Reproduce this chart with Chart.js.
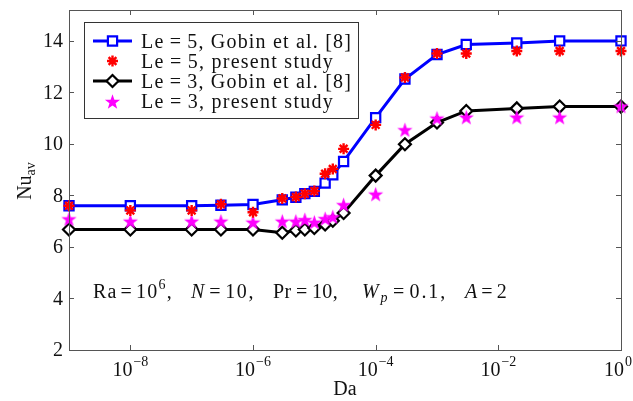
<!DOCTYPE html>
<html><head><meta charset="utf-8">
<script src="https://cdn.jsdelivr.net/npm/chart.js@4/dist/chart.umd.min.js"></script>
<style>html,body{margin:0;padding:0;background:#fff}#wrap{width:633px;height:401px;position:relative}</style>
</head><body><div id="wrap"><canvas id="c"></canvas></div>
<script>
// ---- data ----
const da = [1e-9,1e-8,1e-7,3e-7,1e-6,3e-6,5e-6,7e-6,1e-5,1.5e-5,2e-5,3e-5,1e-4,3e-4,1e-3,3e-3,2e-2,1e-1,1];
const le5Gobin   = [7.6,7.6,7.6,7.62,7.65,7.83,7.93,8.07,8.16,8.48,8.8,9.32,11.02,12.52,13.47,13.86,13.92,14.0,14.0];
const le5Present = [7.6,7.42,7.42,7.66,7.35,7.88,7.94,8.07,8.17,8.84,9.03,9.81,10.74,12.58,13.51,13.51,13.61,13.61,13.61];
const le3Gobin   = [6.68,6.68,6.68,6.68,6.68,6.55,6.64,6.68,6.74,6.87,7.02,7.32,8.77,9.99,10.83,11.28,11.38,11.45,11.45];
const le3Present = [7.09,7.0,7.0,7.0,6.96,7.0,7.0,7.06,6.96,7.1,7.17,7.64,8.05,10.55,11.0,11.04,11.04,11.04,11.47];
const xTickVals = [1e-8,1e-6,1e-4,1e-2,1];
const xTickExp  = ['\u22128','\u22126','\u22124','\u22122','0'];
const yTickVals = [2,4,6,8,10,12,14];
const legendLabels = ['Le\u2009=\u20095, Gobin et al. [8]','Le\u2009=\u20095, present study','Le\u2009=\u20093, Gobin et al. [8]','Le\u2009=\u20093, present study'];

const FONT = '"Liberation Serif", "DejaVu Serif", serif';
const F  = '20px '+FONT, FI = 'italic 20px '+FONT, FS = '14px '+FONT, FSI = 'italic 14px '+FONT;

function starCanvas(){
  const s=17, c=document.createElement('canvas'); c.width=s; c.height=s;
  const g=c.getContext('2d'); g.fillStyle='#ff00ff'; g.beginPath();
  const R=8, r=3.2;
  for(let i=0;i<10;i++){
    const a=-Math.PI/2+i*Math.PI/5, rr=i%2?r:R;
    const x=s/2+rr*Math.cos(a), y=s/2+0.8+rr*Math.sin(a);
    i?g.lineTo(x,y):g.moveTo(x,y);
  }
  g.closePath(); g.fill(); return c;
}
const magStar = starCanvas();

const pts = arr => arr.map((v,i)=>({x:da[i],y:v}));

const datasets = [
  {label:legendLabels[0], data:pts(le5Gobin), borderColor:'#0000ff', backgroundColor:'#ffffff', borderWidth:3,
   pointStyle:'rect', pointRadius:6.5, pointBorderWidth:2.2, pointBorderColor:'#0000ff', pointBackgroundColor:'#ffffff', showLine:true, order:3, clip:false},
  {label:legendLabels[1], data:pts(le5Present), borderColor:'#ff0000', backgroundColor:'#ff0000', pointBorderColor:'#ff0000', showLine:false,
   pointStyle:'star', pointRadius:5.5, pointBorderWidth:2.4, order:1, clip:false},
  {label:legendLabels[2], data:pts(le3Gobin), borderColor:'#000000', backgroundColor:'#ffffff', borderWidth:3,
   pointStyle:'rectRot', pointRadius:6, pointBorderWidth:2.2, pointBorderColor:'#000000', pointBackgroundColor:'#ffffff', showLine:true, order:4, clip:false},
  {label:legendLabels[3], data:pts(le3Present), showLine:false, pointStyle:magStar, order:2, clip:false}
];

// draw a group of text runs starting at x, stretched to a target width via letter spacing
function drawRuns(ctx, runs, x, y, target){
  const hasLS = ('letterSpacing' in ctx);
  if(hasLS) ctx.letterSpacing='0px';
  let nat=0, n=0;
  runs.forEach(r=>{ctx.font=r.f; nat+=ctx.measureText(r.t).width; n+=[...r.t].length;});
  let ls = target ? (target-nat)/n : 0;
  let sx = 1;
  if(!hasLS && target){ sx = target/nat; ls=0; }
  ctx.save(); ctx.translate(x,y); ctx.scale(sx,1);
  ctx.textAlign='left'; ctx.textBaseline='alphabetic';
  let cx=0;
  runs.forEach(r=>{
    ctx.font=r.f; if(hasLS) ctx.letterSpacing=ls+'px';
    ctx.fillText(r.t, cx, r.dy||0);
    cx += ctx.measureText(r.t).width;
  });
  if(hasLS) ctx.letterSpacing='0px';
  ctx.restore();
}

const deco = {
  id:'deco',
  afterDraw(chart){
    const ctx=chart.ctx, a=chart.chartArea, xs=chart.scales.x, ys=chart.scales.y;
    ctx.save();
    // box
    ctx.strokeStyle='#555555'; ctx.lineWidth=1;
    ctx.strokeRect(Math.round(a.left)+0.5, Math.round(a.top)+0.5, Math.round(a.right-a.left), Math.round(a.bottom-a.top));
    // ticks (inward, all sides)
    ctx.beginPath();
    xTickVals.forEach(v=>{const x=Math.round(xs.getPixelForValue(v))+0.5;
      ctx.moveTo(x,a.bottom); ctx.lineTo(x,a.bottom-5); ctx.moveTo(x,a.top); ctx.lineTo(x,a.top+5);});
    yTickVals.forEach(v=>{const y=Math.round(ys.getPixelForValue(v))+0.5;
      ctx.moveTo(a.left,y); ctx.lineTo(a.left+5,y); ctx.moveTo(a.right,y); ctx.lineTo(a.right-5,y);});
    ctx.stroke();
    ctx.fillStyle='#111';
    // y tick labels
    ctx.font=F; ctx.textAlign='right'; ctx.textBaseline='middle';
    yTickVals.forEach(v=>ctx.fillText(String(v), a.left-6, ys.getPixelForValue(v)+1));
    // x tick labels with superscripts
    xTickVals.forEach((v,i)=>{
      const x=xs.getPixelForValue(v);
      ctx.font=F; const w1=ctx.measureText('10').width;
      ctx.font=FS; const w2=ctx.measureText(xTickExp[i]).width;
      let x0=x-(w1+w2+1)/2;
      if(x0+w1+w2+1>632) x0=632-(w1+w2+1);
      ctx.textAlign='left'; ctx.textBaseline='alphabetic';
      ctx.font=F; ctx.fillText('10', x0, 376);
      ctx.font=FS; ctx.fillText(xTickExp[i], x0+w1+1, 366);
    });
    // axis titles
    ctx.font=F; ctx.textAlign='center'; ctx.textBaseline='alphabetic';
    ctx.fillText('Da', (a.left+a.right)/2, 395);
    ctx.save(); ctx.translate(31, 181); ctx.rotate(-Math.PI/2);
    ctx.textAlign='left'; ctx.font=F; const wN=ctx.measureText('Nu').width;
    ctx.font=FS; const wA=ctx.measureText('av').width;
    ctx.font=F; ctx.fillText('Nu', -(wN+wA)/2, 0);
    ctx.font=FS; ctx.fillText('av', -(wN+wA)/2+wN, 4);
    ctx.restore();
    // annotation
    const yb=298, eq='\u2009=\u2009', eqs='\u200a=\u200a';
    drawRuns(ctx,[{t:'Ra'+eqs+'10',f:F},{t:'6',f:FS,dy:-9},{t:',',f:F}],93,yb,80);
    drawRuns(ctx,[{t:'N',f:FI},{t:eqs+'10,',f:F}],191,yb,64);
    drawRuns(ctx,[{t:'Pr'+eq+'10,',f:F}],273,yb,65);
    drawRuns(ctx,[{t:'W',f:FI},{t:'p',f:FSI,dy:4},{t:eqs+'0.1,',f:F}],362,yb,85);
    drawRuns(ctx,[{t:'A',f:FI},{t:eqs+'2',f:F}],465,yb,43);
    // legend
    const L={x:84,y:22,w:274,h:96};
    ctx.fillStyle='#fff'; ctx.fillRect(L.x,L.y,L.w,L.h);
    ctx.strokeStyle='#333'; ctx.lineWidth=1; ctx.strokeRect(L.x+0.5,L.y+0.5,L.w,L.h);
    const rows=[41,61,81,101.5];
    const widths=[211,193,211,193];
    chart.data.datasets.forEach((ds,i)=>{
      const y=rows[i];
      if(ds.showLine){ctx.strokeStyle=ds.borderColor; ctx.lineWidth=3; ctx.beginPath(); ctx.moveTo(93,y); ctx.lineTo(132,y); ctx.stroke();}
      ctx.fillStyle=ds.pointBackgroundColor||ds.backgroundColor||'#fff';
      ctx.strokeStyle=ds.pointBorderColor||ds.borderColor||'#000';
      ctx.lineWidth=ds.pointBorderWidth||2;
      Chart.helpers.drawPoint(ctx,{pointStyle:ds.pointStyle, radius:ds.pointRadius||5, borderWidth:ds.pointBorderWidth||2, rotation:0},112.5,y);
      ctx.fillStyle='#111';
      drawRuns(ctx,[{t:ds.label,f:F}],141,y+6.5,widths[i]);
    });
    ctx.restore();
  }
};

new Chart(document.getElementById('c'), {
  type:'scatter',
  data:{datasets},
  options:{
    responsive:true, maintainAspectRatio:false, animation:false,
    layout:{padding:{left:69,right:12,top:10,bottom:51}},
    plugins:{legend:{display:false}, tooltip:{enabled:false}},
    scales:{
      x:{type:'logarithmic', min:1e-9, max:1, display:false,
         afterBuildTicks:s=>{s.ticks=xTickVals.map(v=>({value:v}));}},
      y:{type:'linear', min:2, max:15.2, display:false,
         afterBuildTicks:s=>{s.ticks=yTickVals.map(v=>({value:v}));}}
    }
  },
  plugins:[deco]
});
</script>
</body></html>
